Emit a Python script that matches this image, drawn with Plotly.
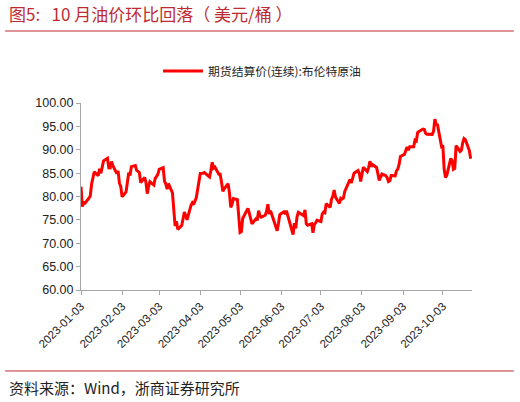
import pandas as pd
import plotly.graph_objects as go

# ICE Brent continuous settlement, 2023 (USD/bbl)
dates = [
    "2023-01-03", "2023-01-04", "2023-01-05", "2023-01-06", "2023-01-09", "2023-01-10",
    "2023-01-11", "2023-01-12", "2023-01-13", "2023-01-16", "2023-01-17", "2023-01-18",
    "2023-01-19", "2023-01-20", "2023-01-23", "2023-01-24", "2023-01-25", "2023-01-26",
    "2023-01-27", "2023-01-30", "2023-01-31", "2023-02-01", "2023-02-02", "2023-02-03",
    "2023-02-06", "2023-02-07", "2023-02-08", "2023-02-09", "2023-02-10", "2023-02-13",
    "2023-02-14", "2023-02-15", "2023-02-16", "2023-02-17", "2023-02-20", "2023-02-21",
    "2023-02-22", "2023-02-23", "2023-02-24", "2023-02-27", "2023-02-28", "2023-03-01",
    "2023-03-02", "2023-03-03", "2023-03-06", "2023-03-07", "2023-03-08", "2023-03-09",
    "2023-03-10", "2023-03-13", "2023-03-14", "2023-03-15", "2023-03-16", "2023-03-17",
    "2023-03-20", "2023-03-21", "2023-03-22", "2023-03-23", "2023-03-24", "2023-03-27",
    "2023-03-28", "2023-03-29", "2023-03-30", "2023-03-31", "2023-04-03", "2023-04-04",
    "2023-04-05", "2023-04-06", "2023-04-10", "2023-04-11", "2023-04-12", "2023-04-13",
    "2023-04-14", "2023-04-17", "2023-04-18", "2023-04-19", "2023-04-20", "2023-04-21",
    "2023-04-24", "2023-04-25", "2023-04-26", "2023-04-27", "2023-04-28", "2023-05-01",
    "2023-05-02", "2023-05-03", "2023-05-04", "2023-05-05", "2023-05-08", "2023-05-09",
    "2023-05-10", "2023-05-11", "2023-05-12", "2023-05-15", "2023-05-16", "2023-05-17",
    "2023-05-18", "2023-05-19", "2023-05-22", "2023-05-23", "2023-05-24", "2023-05-25",
    "2023-05-26", "2023-05-30", "2023-05-31", "2023-06-01", "2023-06-02", "2023-06-05",
    "2023-06-06", "2023-06-07", "2023-06-08", "2023-06-09", "2023-06-12", "2023-06-13",
    "2023-06-14", "2023-06-15", "2023-06-16", "2023-06-19", "2023-06-20", "2023-06-21",
    "2023-06-22", "2023-06-23", "2023-06-26", "2023-06-27", "2023-06-28", "2023-06-29",
    "2023-06-30", "2023-07-03", "2023-07-04", "2023-07-05", "2023-07-06", "2023-07-07",
    "2023-07-10", "2023-07-11", "2023-07-12", "2023-07-13", "2023-07-14", "2023-07-17",
    "2023-07-18", "2023-07-19", "2023-07-20", "2023-07-21", "2023-07-24", "2023-07-25",
    "2023-07-26", "2023-07-27", "2023-07-28", "2023-07-31", "2023-08-01", "2023-08-02",
    "2023-08-03", "2023-08-04", "2023-08-07", "2023-08-08", "2023-08-09", "2023-08-10",
    "2023-08-11", "2023-08-14", "2023-08-15", "2023-08-16", "2023-08-17", "2023-08-18",
    "2023-08-21", "2023-08-22", "2023-08-23", "2023-08-24", "2023-08-25", "2023-08-28",
    "2023-08-29", "2023-08-30", "2023-08-31", "2023-09-01", "2023-09-04", "2023-09-05",
    "2023-09-06", "2023-09-07", "2023-09-08", "2023-09-11", "2023-09-12", "2023-09-13",
    "2023-09-14", "2023-09-15", "2023-09-18", "2023-09-19", "2023-09-20", "2023-09-21",
    "2023-09-22", "2023-09-25", "2023-09-26", "2023-09-27", "2023-09-28", "2023-09-29",
    "2023-10-02", "2023-10-03", "2023-10-04", "2023-10-05", "2023-10-06", "2023-10-09",
    "2023-10-10", "2023-10-11", "2023-10-12", "2023-10-13", "2023-10-16", "2023-10-17",
    "2023-10-18", "2023-10-19", "2023-10-20", "2023-10-23", "2023-10-24",
]
brent = [
    82.10, 77.84, 78.69, 78.57, 79.65, 80.10,
    82.67, 84.03, 85.28, 84.46, 85.92, 84.98,
    86.16, 87.63, 88.19, 86.13, 86.12, 87.47,
    86.66, 84.90, 85.46, 82.84, 82.17, 79.94,
    80.99, 83.69, 85.09, 84.50, 86.39, 86.61,
    85.58, 85.38, 85.14, 83.00, 84.07, 83.05,
    80.60, 82.21, 83.16, 82.45, 83.89, 84.31,
    84.75, 85.83, 86.18, 83.29, 82.66, 81.59,
    82.78, 80.77, 77.45, 73.69, 74.70, 72.97,
    73.79, 75.32, 76.69, 75.91, 74.99, 78.12,
    78.65, 78.28, 79.27, 79.77, 84.93, 84.94,
    84.99, 85.12, 84.18, 85.61, 87.33, 86.09,
    86.31, 84.76, 84.77, 83.12, 81.10, 81.66,
    82.73, 80.77, 77.69, 78.37, 79.54, 79.31,
    75.32, 72.33, 72.50, 75.30, 76.98, 77.44,
    76.41, 74.98, 74.17, 75.23, 74.91, 76.96,
    75.86, 75.58, 75.99, 76.84, 78.36, 76.26,
    76.95, 73.54, 72.66, 74.28, 76.13, 76.71,
    76.29, 76.95, 75.96, 74.79, 71.84, 74.29,
    73.20, 75.67, 76.61, 76.09, 75.90, 77.12,
    74.14, 73.85, 74.18, 72.26, 74.03, 74.34,
    74.90, 74.65, 76.25, 76.65, 76.52, 78.47,
    77.69, 79.40, 80.11, 81.36, 79.87, 78.50,
    79.63, 79.46, 79.64, 81.07, 82.74, 83.64,
    82.92, 84.24, 84.99, 85.56, 84.91, 83.20,
    85.14, 86.24, 85.34, 86.17, 87.55, 86.40,
    86.81, 86.21, 84.89, 83.45, 84.12, 84.80,
    84.46, 84.03, 83.21, 83.36, 84.48, 84.42,
    85.49, 85.86, 86.86, 88.55, 89.00, 90.04,
    90.60, 89.92, 90.65, 90.64, 92.06, 91.88,
    93.70, 93.93, 94.43, 94.34, 93.53, 93.30,
    93.27, 93.29, 93.96, 96.55, 95.38, 95.31,
    90.71, 90.92, 85.81, 84.07, 84.58, 88.15,
    87.65, 85.82, 86.00, 90.89, 89.65, 89.90,
    91.50, 92.38, 92.16, 89.83, 88.07,
]
tick_dates = [
    "2023-01-03", "2023-02-03", "2023-03-03", "2023-04-03", "2023-05-03",
    "2023-06-03", "2023-07-03", "2023-08-03", "2023-09-03", "2023-10-03",
]
y_ticks = [60, 65, 70, 75, 80, 85, 90, 95, 100]

series_name = "期货结算价(连续):布伦特原油"
title_text = "图5:   10 月油价环比回落（ 美元/桶 ）"
source_text = "资料来源：Wind，浙商证券研究所"

df = pd.DataFrame({"date": pd.to_datetime(dates), "brent": brent})

RED = "#FF0000"
DARK_RED = "#BE2B31"
CJK = "Noto Sans CJK SC"
LATIN = "Liberation Sans, Arial, sans-serif"

fig = go.Figure()
fig.add_trace(
    go.Scatter(
        x=df["date"],
        y=df["brent"],
        mode="lines",
        name=series_name,
        line=dict(color=RED, width=3),
    )
)

fig.update_layout(
    width=520,
    height=402,
    margin=dict(l=81, r=48, t=103, b=112),
    paper_bgcolor="white",
    plot_bgcolor="white",
    showlegend=True,
    legend=dict(
        orientation="h",
        x=0.463,
        xanchor="center",
        y=1.171,
        yanchor="middle",
        font=dict(family=CJK, size=11.8, color="#222222"),
        itemwidth=40,
        bgcolor="rgba(0,0,0,0)",
    ),
    xaxis=dict(
        range=["2023-01-03", "2023-10-25"],
        tickvals=pd.to_datetime(tick_dates),
        ticktext=tick_dates,
        tickangle=-45,
        ticks="outside",
        ticklen=4,
        tickcolor="#A6A6A6",
        showline=True,
        linecolor="#A6A6A6",
        linewidth=1,
        showgrid=False,
        zeroline=False,
        tickfont=dict(family=LATIN, size=11.5, color="#222222"),
    ),
    yaxis=dict(
        range=[60, 100],
        tickvals=y_ticks,
        tickformat=".2f",
        ticks="outside",
        ticklen=4,
        tickcolor="#A6A6A6",
        showline=True,
        linecolor="#A6A6A6",
        linewidth=1,
        showgrid=False,
        zeroline=False,
        tickfont=dict(family=LATIN, size=12.5, color="#222222"),
    ),
)

# Header, rules and source note (report-style frame)
fig.add_annotation(
    text=title_text,
    xref="paper", yref="paper",
    x=-0.189, y=1.476,
    xanchor="left", yanchor="middle",
    showarrow=False,
    font=dict(family=CJK, size=17, color=DARK_RED),
)
fig.add_annotation(
    text=source_text,
    xref="paper", yref="paper",
    x=-0.189, y=-0.524,
    xanchor="left", yanchor="middle",
    showarrow=False,
    font=dict(family=CJK, size=15, color="#222222"),
)
for yy in (1.385, -0.433):
    fig.add_shape(
        type="line",
        xref="paper", yref="paper",
        x0=-0.194, x1=1.107, y0=yy, y1=yy,
        line=dict(color=DARK_RED, width=1),
    )

# drop the default 8px body margin so the 520x402 figure fills the window
fig.write_html(
    "out.html",
    config={"displayModeBar": False},
    post_script="document.body.style.margin='0px';",
)
